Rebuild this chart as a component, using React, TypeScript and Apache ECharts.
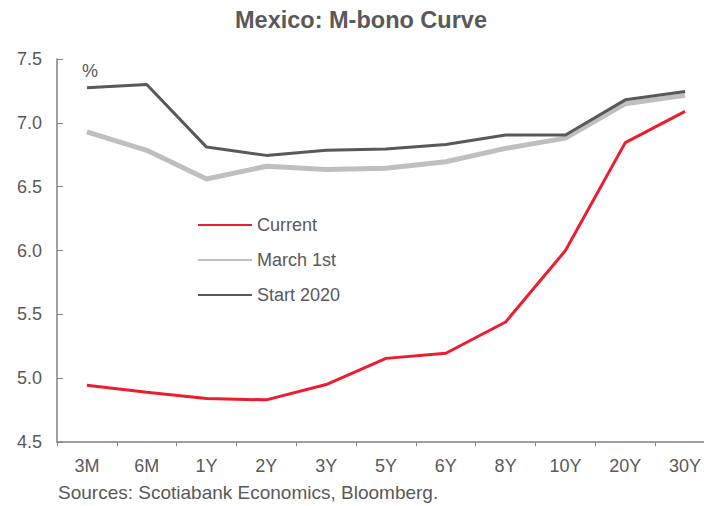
import React, { useEffect, useRef } from "react";
import * as echarts from "echarts";

const categories = ["3M", "6M", "1Y", "2Y", "3Y", "5Y", "6Y", "8Y", "10Y", "20Y", "30Y"];
const current = [4.945, 4.89, 4.84, 4.83, 4.95, 5.155, 5.195, 5.44, 6.0, 6.845, 7.09];
const march1st = [6.93, 6.785, 6.56, 6.66, 6.635, 6.645, 6.695, 6.8, 6.88, 7.15, 7.215];
const start2020 = [7.275, 7.3, 6.81, 6.745, 6.785, 6.795, 6.83, 6.905, 6.905, 7.18, 7.245];
const yTicks = { min: 4.5, max: 7.5, interval: 0.5 };

const TXT = "#595959";
const FONT = "Liberation Sans, Arial, sans-serif";

export default function App() {
  const ref = useRef<HTMLDivElement>(null);
  useEffect(() => {
    if (!ref.current) return;
    document.documentElement.style.overflow = "hidden";
    document.body.style.overflow = "hidden";
    document.body.style.margin = "0";
    const chart = echarts.init(ref.current, undefined, { renderer: "svg" });
    chart.setOption({
      animation: false,
      backgroundColor: "#ffffff",
      textStyle: { fontFamily: FONT, color: TXT },
      title: {
        text: "Mexico: M-bono Curve",
        left: 235,
        top: 8,
        padding: 0,
        textStyle: { fontSize: 23.5, fontWeight: "bold", color: TXT, fontFamily: FONT },
      },
      grid: { left: 57, top: 59, bottom: 64, right: 1, containLabel: false },
      legend: {
        orient: "vertical",
        left: 197,
        top: 216,
        itemWidth: 54,
        itemHeight: 18,
        itemGap: 17,
        padding: 0,
        itemStyle: { opacity: 0 },
        textStyle: { fontSize: 18, color: TXT, fontFamily: FONT, padding: [0, 0, 0, 0] },
        data: ["Current", "March 1st", "Start 2020"],
      },
      xAxis: {
        type: "category",
        data: categories,
        boundaryGap: true,
        axisLine: { lineStyle: { color: "#808080", width: 1.5 } },
        axisTick: { show: true, inside: false, length: 4, lineStyle: { color: "#808080" } },
        axisLabel: { fontSize: 18, color: TXT, margin: 15, fontFamily: FONT },
        splitLine: { show: false },
      },
      yAxis: {
        type: "value",
        min: yTicks.min,
        max: yTicks.max,
        interval: yTicks.interval,
        axisLine: { show: true, lineStyle: { color: "#808080", width: 1.5 } },
        axisTick: { show: true, inside: true, length: 6, lineStyle: { color: "#808080" } },
        axisLabel: {
          fontSize: 18,
          color: TXT,
          margin: 15,
          fontFamily: FONT,
          formatter: (v: number) => v.toFixed(1),
        },
        splitLine: { show: false },
      },
      series: [
        {
          name: "Current",
          type: "line",
          data: current,
          symbol: "none",
          lineStyle: { color: "#ED1C2E", width: 3 },
          itemStyle: { color: "#ED1C2E" },
          z: 4,
        },
        {
          name: "March 1st",
          type: "line",
          data: march1st,
          symbol: "none",
          lineStyle: { color: "#BFBFBF", width: 5 },
          itemStyle: { color: "#BFBFBF" },
          z: 2,
        },
        {
          name: "Start 2020",
          type: "line",
          data: start2020,
          symbol: "none",
          lineStyle: { color: "#595959", width: 3 },
          itemStyle: { color: "#595959" },
          z: 3,
        },
      ],
      graphic: [
        {
          type: "text",
          left: 82,
          top: 62,
          style: { text: "%", fontSize: 18, fill: TXT, fontFamily: FONT },
        },
        {
          type: "text",
          left: 58,
          top: 483,
          style: {
            text: "Sources: Scotiabank Economics, Bloomberg.",
            fontSize: 19,
            fill: TXT,
            fontFamily: FONT,
          },
        },
      ],
    });
    return () => chart.dispose();
  }, []);
  return (
    <div style={{ width: 704, height: 506, overflow: "hidden", position: "relative" }}>
      <div ref={ref} style={{ width: 716, height: 506 }} />
    </div>
  );
}
